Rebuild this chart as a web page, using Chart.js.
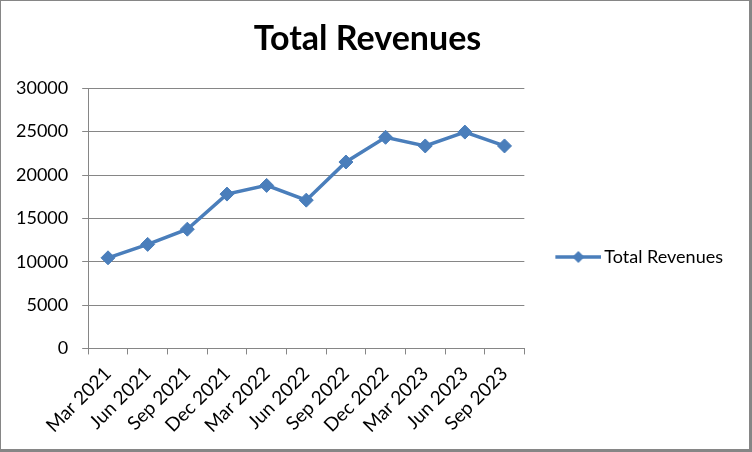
<!DOCTYPE html>
<html><head><meta charset="utf-8">
<script src="https://cdn.jsdelivr.net/npm/chart.js@4/dist/chart.umd.min.js"></script>
<style>html,body{margin:0;padding:0;background:#fff}</style>
</head><body>
<canvas id="c" width="752" height="452" style="display:block;width:752px;height:452px"></canvas>
<script>
const categories = ["Mar 2021","Jun 2021","Sep 2021","Dec 2021","Mar 2022","Jun 2022","Sep 2022","Dec 2022","Mar 2023","Jun 2023","Sep 2023"];
const revenues = [10450, 12000, 13750, 17800, 18800, 17100, 21500, 24350, 23350, 24950, 23350];
const seriesName = "Total Revenues";
const chartTitle = "Total Revenues";
const yMin = 0, yMax = 30000, yStep = 5000;

const LINE = '#4A7EBB';
const GRID = '#868686';
const FONT = 'Lato, "Open Sans", sans-serif';

// legend icon: line with diamond
const icon = document.createElement('canvas');
icon.width = 73; icon.height = 16;
(function(){
  const g = icon.getContext('2d');
  g.strokeStyle = LINE; g.lineWidth = 3.5;
  g.beginPath(); g.moveTo(27, 8); g.lineTo(73, 8); g.stroke();
  g.fillStyle = LINE;
  g.beginPath(); g.moveTo(50-6, 8); g.lineTo(50, 2); g.lineTo(50+6, 8); g.lineTo(50, 14); g.closePath(); g.fill();
})();

const framePlugin = {
  id: 'frame',
  beforeDraw(chart) {
    const c = chart.ctx;
    c.save(); c.fillStyle = '#fff'; c.fillRect(0, 0, chart.width, chart.height); c.restore();
  },
  afterDraw(chart) {
    const c = chart.ctx, w = chart.width, h = chart.height;
    c.save(); c.fillStyle = GRID;
    c.fillRect(0, 0, w, 1); c.fillRect(0, 0, 1, h);
    c.fillRect(w - 3, 0, 3, h); c.fillRect(0, h - 3, w, 3);
    c.restore();
  }
};

new Chart(document.getElementById('c'), {
  type: 'line',
  data: {
    labels: categories,
    datasets: [{
      label: seriesName,
      data: revenues,
      borderColor: LINE,
      backgroundColor: LINE,
      borderWidth: 3.5,
      pointStyle: 'rectRot',
      pointRadius: 7,
      pointHoverRadius: 7,
      pointBackgroundColor: LINE,
      pointBorderColor: LINE,
      pointBorderWidth: 1,
      tension: 0,
      fill: false
    }]
  },
  options: {
    responsive: false,
    devicePixelRatio: 1,
    animation: false,
    events: [],
    layout: { padding: { left: 2, right: 19, top: 0, bottom: 7 } },
    plugins: {
      title: {
        display: true, text: chartTitle, color: '#000',
        font: { family: FONT, size: 34, weight: 'bold', lineHeight: 1.2 },
        padding: { top: 19, bottom: 28.5 }
      },
      legend: {
        position: 'right',
        maxWidth: 400,
        title: { display: true, text: '', font: { family: FONT, size: 12, lineHeight: 1.2 }, padding: { top: 54.6, bottom: 0 } },
        labels: {
          usePointStyle: true,
          pointStyle: icon,
          pointStyleWidth: 61,
          padding: 10,
          color: '#000',
          font: { family: FONT, size: 18 },
          generateLabels(chart) {
            const ds = chart.data.datasets[0];
            return [{ text: ds.label, pointStyle: icon, fillStyle: LINE, strokeStyle: LINE, lineWidth: 0, datasetIndex: 0, fontColor: '#000' }];
          }
        }
      },
      tooltip: { enabled: false }
    },
    scales: {
      x: {
        offset: true,
        grid: { offset: true, drawOnChartArea: false, drawTicks: true, tickLength: 6, color: GRID, lineWidth: 1 },
        border: { display: true, color: GRID, width: 1 },
        ticks: { color: '#000', font: { family: FONT, size: 19 }, minRotation: 45, maxRotation: 45, padding: 8, autoSkip: false }
      },
      y: {
        min: yMin, max: yMax,
        grid: { color: GRID, lineWidth: 1, tickLength: 6, drawTicks: true },
        border: { display: true, color: GRID, width: 1 },
        ticks: { stepSize: yStep, color: '#000', font: { family: FONT, size: 18 }, padding: 14,
                 callback: (v) => String(v) }
      }
    }
  },
  plugins: [framePlugin]
});
</script>
</body></html>
